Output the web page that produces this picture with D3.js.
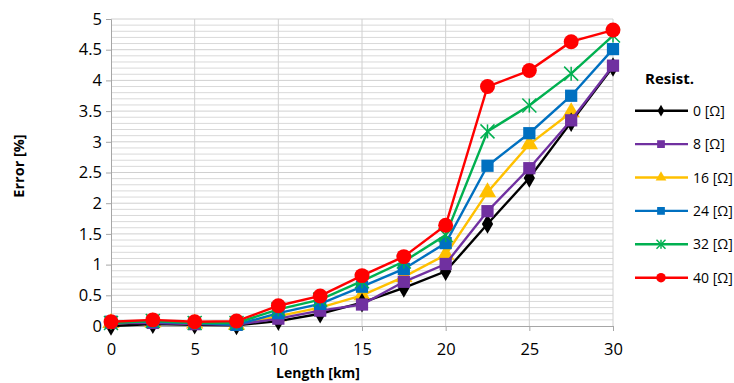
<!DOCTYPE html>
<html>
<head>
<meta charset="utf-8">
<script src="https://cdn.jsdelivr.net/npm/d3@7"></script>
<style>
  body { margin: 0; background: #fff; }
  svg { font-family: "Open Sans", sans-serif; }
</style>
</head>
<body>
<svg id="chart"></svg>
<script>
const lengths = [0, 2.5, 5, 7.5, 10, 12.5, 15, 17.5, 20, 22.5, 25, 27.5, 30];
const seriesNames = ["0 [Ω]", "8 [Ω]", "16 [Ω]", "24 [Ω]", "32 [Ω]", "40 [Ω]"];
const err0  = [0.00, 0.03, 0.02, 0.01, 0.08, 0.20, 0.38, 0.62, 0.89, 1.66, 2.41, 3.32, 4.22];
const err8  = [0.05, 0.05, 0.03, 0.02, 0.12, 0.25, 0.35, 0.72, 1.01, 1.87, 2.57, 3.35, 4.24];
const err16 = [0.05, 0.06, 0.04, 0.02, 0.16, 0.30, 0.50, 0.80, 1.16, 2.18, 2.96, 3.48, null];
const err24 = [0.07, 0.07, 0.05, 0.02, 0.21, 0.36, 0.64, 0.93, 1.35, 2.61, 3.14, 3.75, 4.51];
const err32 = [0.05, 0.08, 0.05, 0.05, 0.27, 0.43, 0.73, 1.05, 1.48, 3.17, 3.59, 4.11, 4.73];
const err40 = [0.07, 0.10, 0.07, 0.08, 0.33, 0.49, 0.82, 1.13, 1.64, 3.90, 4.16, 4.63, 4.82];
const xTicks = [0, 5, 10, 15, 20, 25, 30];
const yTicks = [0, 0.5, 1, 1.5, 2, 2.5, 3, 3.5, 4, 4.5, 5];

const colors = ["#000000", "#7030a0", "#ffc000", "#0070c0", "#00b050", "#ff0000"];
const shapes = ["diamond", "square", "triangle", "square", "star", "circle"];
const allSeries = [err0, err8, err16, err24, err32, err40];
const drawOrder = [2, 0, 1, 3, 4, 5];

const width = 734, height = 383;
const margin = {top: 19, right: 121, bottom: 57, left: 111};

const svg = d3.select("#chart")
    .attr("width", width)
    .attr("height", height);

const x = d3.scaleLinear().domain([0, 30]).range([margin.left, width - margin.right]);
const y = d3.scaleLinear().domain([0, 5]).range([height - margin.bottom, margin.top]);

// minor horizontal grid
const minor = d3.range(0, 50).map(i => i / 10).filter((d, i) => i % 5 !== 0);
svg.append("g").selectAll("line")
    .data(minor).enter().append("line")
    .attr("x1", x(0)).attr("x2", x(30))
    .attr("y1", d => y(d)).attr("y2", d => y(d))
    .attr("stroke", "#d9d9d9").attr("stroke-width", 1);

// major grid
svg.append("g").selectAll("line")
    .data(yTicks.slice(1)).enter().append("line")
    .attr("x1", x(0)).attr("x2", x(30))
    .attr("y1", d => y(d)).attr("y2", d => y(d))
    .attr("stroke", "#d0d0d0").attr("stroke-width", 1);
svg.append("g").selectAll("line")
    .data(xTicks.slice(1)).enter().append("line")
    .attr("x1", d => x(d)).attr("x2", d => x(d))
    .attr("y1", y(0)).attr("y2", y(5))
    .attr("stroke", "#d0d0d0").attr("stroke-width", 1);

// axes
const xAxis = svg.append("g")
    .attr("transform", "translate(0," + y(0) + ")")
    .call(d3.axisBottom(x).tickValues(xTicks).tickSize(5).tickPadding(12));
const yAxis = svg.append("g")
    .attr("transform", "translate(" + x(0) + ",0)")
    .call(d3.axisLeft(y).tickValues(yTicks).tickSize(5).tickPadding(4).tickFormat(d3.format("")));
[xAxis, yAxis].forEach(a => {
    a.select(".domain").attr("stroke", "#a6a6a6");
    a.selectAll(".tick line").attr("stroke", "#a6a6a6");
    a.selectAll("text").attr("font-size", 16.5).attr("fill", "#000")
        .attr("font-family", "'Open Sans', sans-serif");
});

// axis titles
svg.append("text")
    .attr("x", 318).attr("y", 378)
    .attr("text-anchor", "middle")
    .attr("font-size", 14).attr("font-weight", "bold")
    .text("Length [km]");
svg.append("text")
    .attr("transform", "translate(24,166) rotate(-90)")
    .attr("text-anchor", "middle")
    .attr("font-size", 14.5).attr("font-weight", "bold")
    .text("Error [%]");

function symbolFor(shape, size) {
    const t = {
        diamond: d3.symbolDiamond,
        square: d3.symbolSquare,
        triangle: d3.symbolTriangle,
        circle: d3.symbolCircle
    }[shape];
    return d3.symbol().type(t).size(size)();
}

function drawMarker(g, shape, color, cx, cy, big) {
    const sizes = big
        ? {diamond: 110, square: 150, triangle: 130, circle: 175}
        : {diamond: 40, square: 60, triangle: 50, circle: 70};
    if (shape === "star") {
        const r = big ? 7 : 4.5;
        const p = g.append("g").attr("transform", "translate(" + cx + "," + cy + ")")
            .attr("stroke", color).attr("stroke-width", 1.5);
        p.append("line").attr("x1", -r).attr("y1", -r).attr("x2", r).attr("y2", r);
        p.append("line").attr("x1", -r).attr("y1", r).attr("x2", r).attr("y2", -r);
        p.append("line").attr("x1", 0).attr("y1", -r).attr("x2", 0).attr("y2", r);
    } else {
        g.append("path")
            .attr("d", symbolFor(shape, sizes[shape]))
            .attr("transform", "translate(" + cx + "," + cy + ")")
            .attr("fill", color);
    }
}

const line = d3.line()
    .defined(d => d != null)
    .x((d, i) => x(lengths[i]))
    .y(d => y(d));

drawOrder.forEach(s => {
    const vals = allSeries[s];
    const g = svg.append("g");
    g.append("path")
        .attr("d", line(vals))
        .attr("fill", "none")
        .attr("stroke", colors[s])
        .attr("stroke-width", 2.4);
    vals.forEach((v, i) => {
        if (v != null) drawMarker(g, shapes[s], colors[s], x(lengths[i]), y(v), true);
    });
});

// legend
const legend = svg.append("g");
legend.append("text")
    .attr("x", 645).attr("y", 84)
    .attr("font-size", 15).attr("font-weight", "bold")
    .text("Resist.");
seriesNames.forEach((name, s) => {
    const ly = 110.7 + s * 33.4;
    legend.append("line")
        .attr("x1", 635).attr("x2", 688)
        .attr("y1", ly).attr("y2", ly)
        .attr("stroke", colors[s]).attr("stroke-width", 2.4);
    drawMarker(legend, shapes[s], colors[s], 661, ly, false);
    legend.append("text")
        .attr("x", 693).attr("y", ly + 5)
        .attr("font-size", 14)
        .text(name);
});
</script>
</body>
</html>
